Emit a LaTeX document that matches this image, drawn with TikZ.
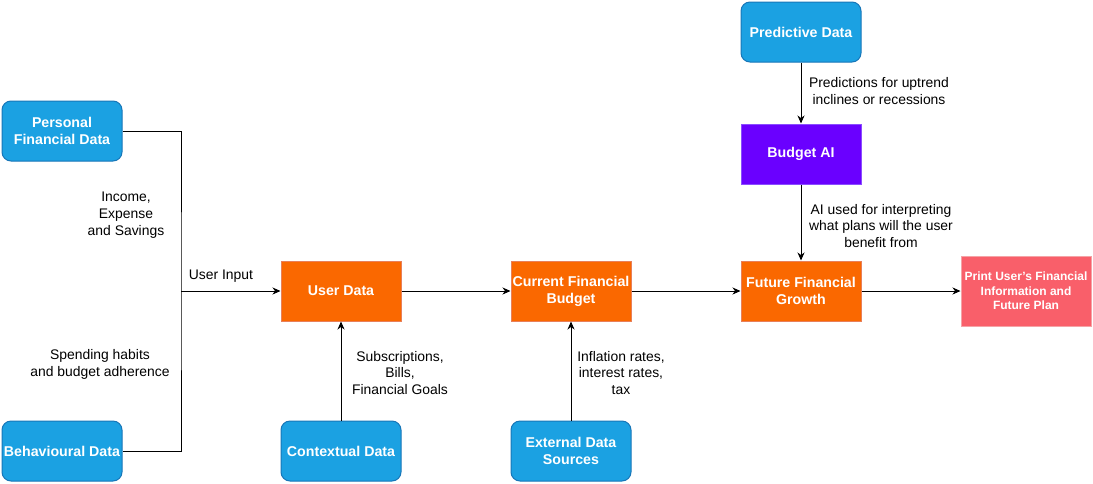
\documentclass[tikz,border=0pt]{standalone}
\usepackage{fontspec}
\setmainfont{Liberation Sans}
\usetikzlibrary{arrows.meta}
\definecolor{bluefill}{HTML}{1BA1E2}
\definecolor{blueline}{HTML}{1776B8}
\definecolor{orangefill}{HTML}{FA6800}
\definecolor{orangeline}{HTML}{E8805A}
\definecolor{purplefill}{HTML}{6A00FF}
\definecolor{purpleline}{HTML}{8A4DFF}
\definecolor{redfill}{HTML}{F95F6A}
\definecolor{redline}{HTML}{F5A3A6}
\tikzset{
  box/.style={minimum width=120pt, minimum height=60pt, align=center, text=white,
    font=\fontsize{14.2}{16.8}\selectfont\bfseries, line width=1pt, inner sep=1pt},
  bluebox/.style={box, fill=bluefill, draw=blueline, rounded corners=9pt},
  orangebox/.style={box, fill=orangefill, draw=orangeline},
  purplebox/.style={box, fill=purplefill, draw=purpleline},
  redbox/.style={box, fill=redfill, draw=redline, minimum width=130pt, minimum height=70pt,
    font=\fontsize{12}{14.5}\selectfont\bfseries},
  conn/.style={line width=1pt, draw=black},
  arr/.style={conn, -{Stealth[length=8pt, width=7pt, inset=2.5pt]}},
  lbl/.style={align=center, font=\fontsize{13.9}{16.8}\selectfont, inner sep=0pt}
}
\begin{document}
\begin{tikzpicture}[x=1pt, y=-1pt]
\useasboundingbox (0,0) rectangle (1093,483);
% nodes
\node[bluebox] (pfd) at (62,131) {Personal\\Financial Data};
\node[bluebox] (bd) at (62,451) {Behavioural Data};
\node[orangebox] (ud) at (341,291) {User Data};
\node[bluebox] (cd) at (341,451) {Contextual Data};
\node[orangebox] (cfb) at (571,291) {Current Financial\\Budget};
\node[bluebox] (eds) at (571,451) {External Data\\Sources};
\node[orangebox] (ffg) at (801,291) {Future Financial\\Growth};
\node[bluebox] (pd) at (801,32) {Predictive Data};
\node[purplebox] (bai) at (801,154) {Budget AI};
\node[redbox] (pr) at (1026,291) {Print User's Financial\\Information and\\Future Plan};
% connectors
\coordinate (j) at (181,291);
\draw[conn] (pfd.east) -| (j) |- (bd.east);
\draw[arr] (j) -- (ud.west);
\draw[arr] (cd.north) -- (ud.south);
\draw[arr] (eds.north) -- (cfb.south);
\draw[arr] (ud.east) -- (cfb.west);
\draw[arr] (cfb.east) -- (ffg.west);
\draw[arr] (ffg.east) -- (pr.west);
\draw[arr] (pd.south) -- (bai.north);
\draw[arr] (bai.south) -- (ffg.north);
% labels
\node[lbl] (l1) at (221,276) {User Input};
\node[lbl] (l2) at (126,215) {Income,\\Expense\\and Savings};
\node[lbl] (l3) at (100,364) {Spending habits\\and budget adherence};
\node[lbl] (l4) at (400,373) {Subscriptions,\\Bills,\\Financial Goals};
\node[lbl] (l5) at (621,373) {Inflation rates,\\interest rates,\\tax};
\node[lbl] (l6) at (879,91) {Predictions for uptrend\\inclines or recessions};
\node[lbl] (l7) at (881,226) {AI used for interpreting\\what plans will the user\\benefit from};
\end{tikzpicture}
\end{document}
